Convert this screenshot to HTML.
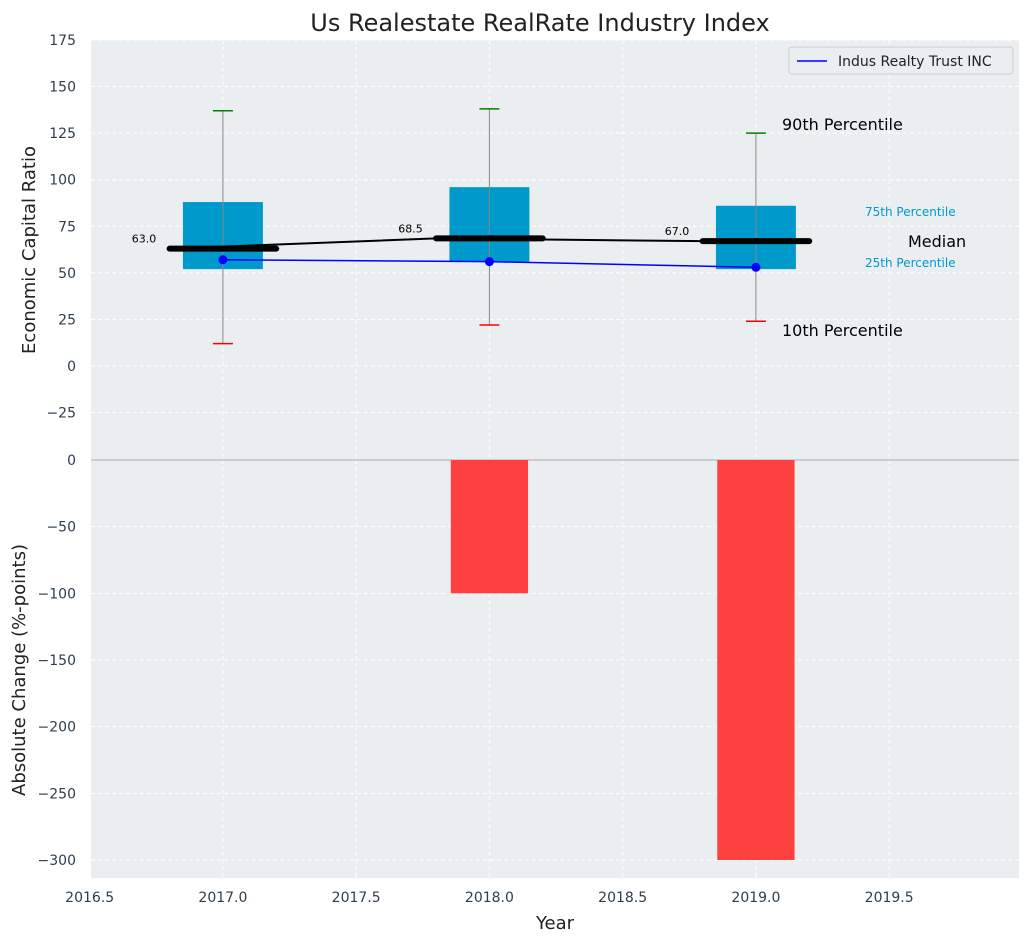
<!DOCTYPE html>
<html><head><meta charset="utf-8"><style>
body{margin:0;background:#fff;font-family:"Liberation Sans","DejaVu Sans",sans-serif;}
svg text{font-family:"DejaVu Sans","Liberation Sans",sans-serif;}
</style></head><body>
<svg id="c" width="1029" height="942" xmlns="http://www.w3.org/2000/svg"></svg>
<script>
const years=[2017,2018,2019];
const p10=[12,22,24];
const p25=[52,56,52];
const p50=[63,68.5,67];
const p75=[88,96,86];
const p90=[137,138,125];
const company=[57,56,53];
const change=[0,-100,-300];
const topTicks=[-25,0,25,50,75,100,125,150,175];
const botTicks=[-300,-250,-200,-150,-100,-50,0];
const xTicks=[2016.5,2017,2017.5,2018,2018.5,2019,2019.5];
const NS="http://www.w3.org/2000/svg";
const svg=document.getElementById('c');
const L=91,R=1019;
const X=v=>L+(v-2016.505)*266.5;
const YT=v=>366-v*1.863;
const YB=v=>460-v*1.3333;
function el(t,a,txt){const e=document.createElementNS(NS,t);for(const k in a)e.setAttribute(k,a[k]);if(txt!==undefined)e.textContent=txt;svg.appendChild(e);return e;}
let e;
e=el('rect',{x:L,y:40,width:R-L,height:420,fill:'#eaeef0'});


e=el('rect',{x:L,y:460,width:R-L,height:418,fill:'#eaeef0'});


xTicks.forEach(t=>{
 el('line',{x1:X(t),x2:X(t),y1:40,y2:878,stroke:'#fff','stroke-dasharray':'4,3','stroke-width':1});
 e=el('text',{x:X(t),y:902,'text-anchor':'middle','font-size':14,fill:'#2c3e50'},t.toFixed(1));
 
 
});
topTicks.forEach(t=>{
 el('line',{x1:L,x2:R,y1:YT(t),y2:YT(t),stroke:'#fff','stroke-dasharray':'4,3'});
 e=el('text',{x:76,y:YT(t)+5,'text-anchor':'end','font-size':14,fill:'#2c3e50'},t<0?'\u2212'+(-t):t);
 
 
});
botTicks.forEach(t=>{
 el('line',{x1:L,x2:R,y1:YB(t),y2:YB(t),stroke:'#fff','stroke-dasharray':'4,3'});
 e=el('text',{x:76,y:YB(t)+5,'text-anchor':'end','font-size':14,fill:'#2c3e50'},t<0?'\u2212'+(-t):t);
 
 
});
el('line',{x1:L,x2:R,y1:460,y2:460,stroke:'#aaa','stroke-width':1});
years.forEach((y,i)=>{
 e=el('rect',{x:X(y-0.15),y:YT(p75[i]),width:X(y+0.15)-X(y-0.15),height:YT(p25[i])-YT(p75[i]),fill:'#0099cc'});
 
 
 el('line',{x1:X(y),x2:X(y),y1:YT(p90[i]),y2:YT(p10[i]),stroke:'#888','stroke-width':1});
 e=el('line',{x1:X(y)-10,x2:X(y)+10,y1:YT(p90[i]),y2:YT(p90[i]),stroke:'green','stroke-width':1.5});
 
 
 e=el('line',{x1:X(y)-10,x2:X(y)+10,y1:YT(p10[i]),y2:YT(p10[i]),stroke:'red','stroke-width':1.5});
 
 
 e=el('line',{x1:X(y-0.2),x2:X(y+0.2),y1:YT(p50[i]),y2:YT(p50[i]),stroke:'#000','stroke-width':6,'stroke-linecap':'round'});
 
 
 e=el('text',{x:X(y-0.25),y:YT(p50[i])-6,'text-anchor':'end','font-size':11,fill:'#000'},p50[i].toFixed(1));
 
 
 if(change[i]!==0){
  e=el('rect',{x:X(y-0.145),y:YB(0),width:X(y+0.145)-X(y-0.145),height:YB(change[i])-YB(0),fill:'#ff4040'});
  
  
 }
});
e=el('polyline',{points:years.map((y,i)=>X(y-0.2)+','+YT(p50[i])).join(' '),fill:'none',stroke:'#000','stroke-width':2});


e=el('polyline',{points:years.map((y,i)=>X(y)+','+YT(company[i])).join(' '),fill:'none',stroke:'blue','stroke-width':1.5});


years.forEach((y,i)=>{
 e=el('circle',{cx:X(y),cy:YT(company[i]),r:4.5,fill:'blue'});
 
 
});
const ann=[[782,130,'90th Percentile',16,'#000'],[782,336,'10th Percentile',16,'#000'],[908,247,'Median',16,'#000'],[865,216,'75th Percentile',12,'#0099cc'],[865,267,'25th Percentile',12,'#0099cc']];
ann.forEach(a=>{e=el('text',{x:a[0],y:a[1],'font-size':a[3],fill:a[4]},a[2]);
 
 });
e=el('text',{x:540,y:31,'text-anchor':'middle','font-size':24,fill:'#222'},'Us Realestate RealRate Industry Index');


e=el('text',{x:555,y:929,'text-anchor':'middle','font-size':18,fill:'#222'},'Year');


e=el('text',{x:35,y:250,'text-anchor':'middle','font-size':18,fill:'#222',transform:'rotate(-90 35 250)'},'Economic Capital Ratio');


e=el('text',{x:25,y:670,'text-anchor':'middle','font-size':18,fill:'#222',transform:'rotate(-90 25 670)'},'Absolute Change (%-points)');


e=el('rect',{x:789,y:47,width:224,height:27,fill:'#eaeef0',stroke:'#ccc',rx:3});


el('line',{x1:797,x2:827,y1:61,y2:61,stroke:'blue','stroke-width':1.5});
e=el('text',{x:838,y:66,'font-size':14,fill:'#222'},'Indus Realty Trust INC');


</script>
</body></html>
